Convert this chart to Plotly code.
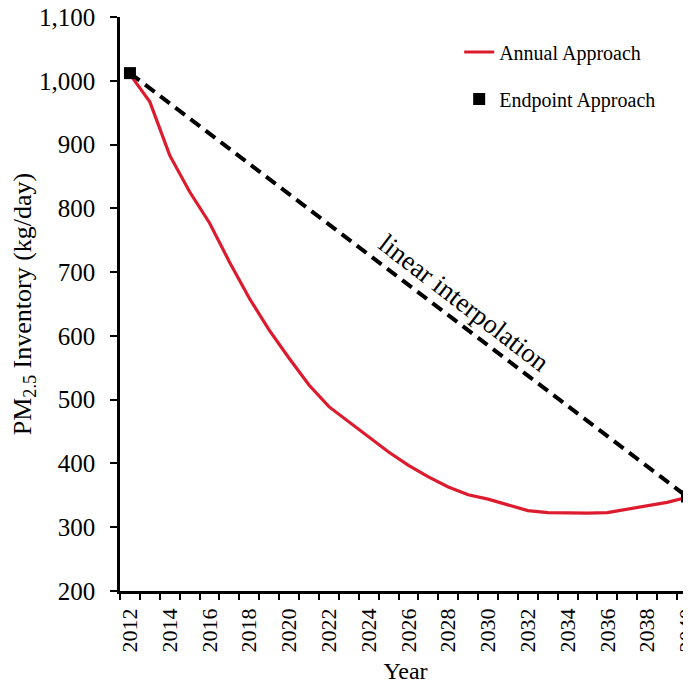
import plotly.graph_objects as go

# ---- data ----
years = list(range(2012, 2041))
annual_values = [1010, 967, 883, 826, 777, 716, 659, 609, 565, 523, 489, 465,
                 442, 418, 397, 379, 363, 351, 344, 335, 326, 323, 322, 322,
                 323, 328, 333, 339, 347]
endpoint_years = [2012, 2040]
endpoint_values = [1012, 348]
xtick_years = list(range(2012, 2041, 2))
xtick_labels = [str(y) for y in xtick_years]
ytick_values = list(range(200, 1101, 100))
boundaries = [y - 0.5 for y in range(2012, 2042)]

FONT = "Liberation Serif, Times New Roman, serif"
RED = "#DC1C2E"

fig = go.Figure()

fig.add_trace(go.Scatter(
    x=years, y=annual_values, mode="lines", name="Annual Approach",
    line=dict(color=RED, width=3.2), legendgroup="a"))

fig.add_trace(go.Scatter(
    x=endpoint_years, y=endpoint_values, mode="lines", showlegend=False,
    line=dict(color="black", width=4, dash="12px,7px"), hoverinfo="skip"))

fig.add_trace(go.Scatter(
    x=endpoint_years, y=endpoint_values, mode="markers", name="Endpoint Approach",
    marker=dict(symbol="square", size=12, color="black"), cliponaxis=False,
    legendgroup="b"))

fig.add_annotation(
    x=2028.8, y=652, xref="x", yref="y", text="linear interpolation",
    showarrow=False, textangle=37.5,
    font=dict(family=FONT, size=27, color="black"))

xr = [2011.5, 2040.2]
yr = [200, 1100]

fig.update_layout(
    width=683, height=677,
    margin=dict(l=112, r=0, t=9, b=94),
    paper_bgcolor="white", plot_bgcolor="white",
    font=dict(family=FONT, color="black"),
    showlegend=True,
    legend=dict(x=0.594, y=0.973, xanchor="left", yanchor="top",
                bgcolor="rgba(0,0,0,0)", font=dict(family=FONT, size=20),
                tracegroupgap=18, itemwidth=30),
    xaxis=dict(
        range=xr, tickmode="array", tickvals=xtick_years, ticktext=xtick_labels,
        tickangle=-90, ticks="outside", ticklen=6, tickcolor="rgba(0,0,0,0)",
        ticklabelstandoff=0, ticklabeloverflow="allow",
        tickfont=dict(family=FONT, size=22, color="black"),
        showline=True, linecolor="black", linewidth=2.5, showgrid=False,
        zeroline=False,
        minor=dict(tickmode="array", tickvals=boundaries, ticks="outside",
                   ticklen=6, tickwidth=2, tickcolor="black", showgrid=False),
        title=dict(text="Year", font=dict(family=FONT, size=24), standoff=11),
        automargin=False),
    yaxis=dict(
        range=yr, tickmode="array", tickvals=ytick_values, tickformat=",",
        ticks="outside", ticklen=7, tickwidth=2, tickcolor="black",
        ticklabelstandoff=10, ticklabeloverflow="allow",
        tickfont=dict(family=FONT, size=25, color="black"),
        showline=True, linecolor="black", linewidth=2.5, showgrid=False,
        zeroline=False,
        title=dict(text="PM<sub>2.5</sub> Inventory (kg/day)",
                   font=dict(family=FONT, size=26), standoff=4),
        automargin=False),
    xaxis2=dict(
        range=xr, overlaying="x", anchor="y", side="bottom",
        tickmode="array", tickvals=boundaries, ticks="inside", ticklen=6,
        tickwidth=2, tickcolor="black", showticklabels=False, showline=False,
        showgrid=False, zeroline=False),
    yaxis2=dict(
        range=yr, overlaying="y", anchor="x", side="left",
        tickmode="array", tickvals=ytick_values, ticks="inside", ticklen=7,
        tickwidth=2, tickcolor="black", showticklabels=False, showline=False,
        showgrid=False, zeroline=False),
)

fig.write_html("out.html")
